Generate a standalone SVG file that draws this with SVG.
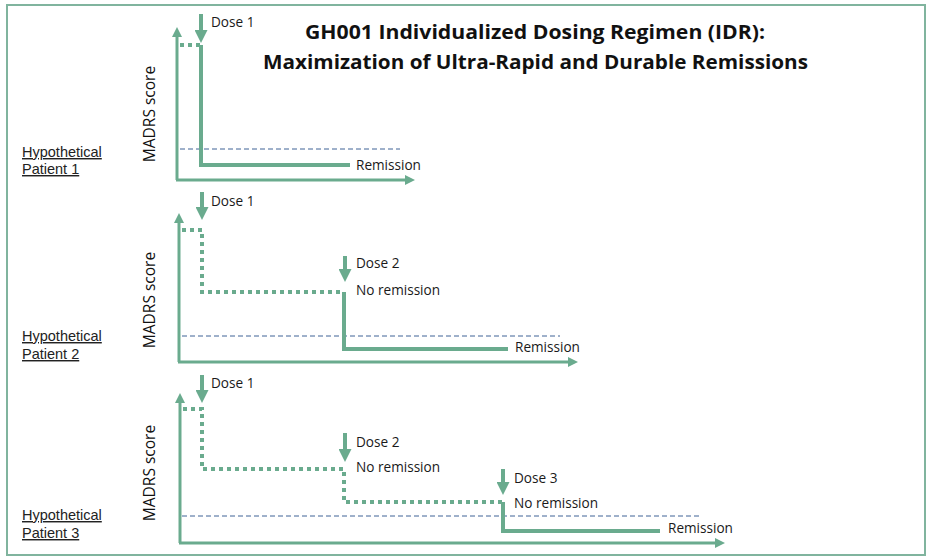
<svg xmlns="http://www.w3.org/2000/svg" width="933" height="559" viewBox="0 0 933 559">
<style>
.lbl{font-family:"Open Sans","Liberation Sans",sans-serif;font-size:13.6px;fill:#1a1a1a}
.hyp{font-family:"Liberation Sans",Arial,sans-serif;font-size:14.5px;fill:#222;text-decoration:underline}
.ax{font-family:"Open Sans","Liberation Sans",sans-serif;font-size:15.5px;fill:#111}
.title{font-family:"Open Sans","Liberation Sans",sans-serif;font-size:19px;font-weight:bold;fill:#111}
.axis{stroke:#6aab8e;stroke-width:3;fill:none}
.solid{stroke:#6aab8e;stroke-width:4;fill:none}
.dot{stroke:#6aab8e;stroke-width:4;fill:none;stroke-dasharray:4 4}
.dose{stroke:#6aab8e;stroke-width:4;fill:none}
.thr{stroke:#3f6296;stroke-width:1;fill:none;stroke-dasharray:5 3}
</style>
<defs>
<marker id="axh" viewBox="0 0 10 10" refX="1" refY="5" markerWidth="10" markerHeight="10" markerUnits="userSpaceOnUse" orient="auto">
<path d="M0,0 L10,5 L0,10 z" fill="#6aab8e"/>
</marker>
<marker id="dh" viewBox="0 0 13 13" refX="1" refY="6.5" markerWidth="13" markerHeight="13" markerUnits="userSpaceOnUse" orient="auto">
<path d="M0,0 L13,6.5 L0,13 z" fill="#6aab8e"/>
</marker>
</defs>
<rect x="7" y="5" width="918" height="550" fill="#fff" stroke="#80b49e" stroke-width="2"/>
<g id="title">
<text class="title" x="305" y="39" textLength="460" lengthAdjust="spacingAndGlyphs">GH001 Individualized  Dosing Regimen (IDR):</text>
<text class="title" x="263" y="69" textLength="545" lengthAdjust="spacingAndGlyphs">Maximization  of Ultra-Rapid  and Durable Remissions</text>
</g>
<g id="patient1">
<text class="hyp" x="22" y="157">Hypothetical</text>
<text class="hyp" x="22" y="174">Patient 1</text>
<text class="ax" transform="translate(155,114) rotate(-90)" text-anchor="middle">MADRS score</text>
<text class="lbl" x="211" y="27">Dose 1</text>
<text class="lbl" x="356" y="170">Remission</text>
</g>
<g id="patient2">
<text class="hyp" x="22" y="341">Hypothetical</text>
<text class="hyp" x="22" y="359">Patient 2</text>
<text class="ax" transform="translate(155,300) rotate(-90)" text-anchor="middle">MADRS score</text>
<text class="lbl" x="211" y="206">Dose 1</text>
<text class="lbl" x="356" y="268">Dose 2</text>
<text class="lbl" x="356" y="295">No remission</text>
<text class="lbl" x="515" y="352">Remission</text>
</g>
<g id="patient3">
<text class="hyp" x="22" y="520">Hypothetical</text>
<text class="hyp" x="22" y="538">Patient 3</text>
<text class="ax" transform="translate(155,473) rotate(-90)" text-anchor="middle">MADRS score</text>
<text class="lbl" x="211" y="388">Dose 1</text>
<text class="lbl" x="356" y="447">Dose 2</text>
<text class="lbl" x="356" y="472">No remission</text>
<text class="lbl" x="514" y="483">Dose 3</text>
<text class="lbl" x="514" y="508">No remission</text>
<text class="lbl" x="668" y="533">Remission</text>
</g>
<g id="connectors">
<!-- panel 1 -->
<path class="thr" d="M180,149 H400"/>
<path class="axis" d="M177,180 V36" marker-end="url(#axh)"/>
<path class="axis" d="M176,180 H406" marker-end="url(#axh)"/>
<path class="dot" d="M180,45 H201"/>
<path class="solid" d="M201,45 V165 H350"/>
<path class="dose" d="M201,14 V31" marker-end="url(#dh)"/>
<!-- panel 2 -->
<path class="thr" d="M182,336 H560"/>
<path class="axis" d="M179,362 V222" marker-end="url(#axh)"/>
<path class="axis" d="M178,362 H569" marker-end="url(#axh)"/>
<path class="dot" d="M182,230 H202 V292 H343"/>
<path class="solid" d="M344,292 V349 H508"/>
<path class="dose" d="M202,192 V208" marker-end="url(#dh)"/>
<path class="dose" d="M345,256 V270" marker-end="url(#dh)"/>
<!-- panel 3 -->
<path class="thr" d="M182,516 H702"/>
<path class="axis" d="M180,543 V402" marker-end="url(#axh)"/>
<path class="axis" d="M179,543 H716" marker-end="url(#axh)"/>
<path class="dot" d="M183,409 H202 V469 H344 V502 H502"/>
<path class="solid" d="M503,502 V531 H660"/>
<path class="dose" d="M202,375 V391" marker-end="url(#dh)"/>
<path class="dose" d="M345,433 V450" marker-end="url(#dh)"/>
<path class="dose" d="M503,469 V483" marker-end="url(#dh)"/>
</g>
</svg>
